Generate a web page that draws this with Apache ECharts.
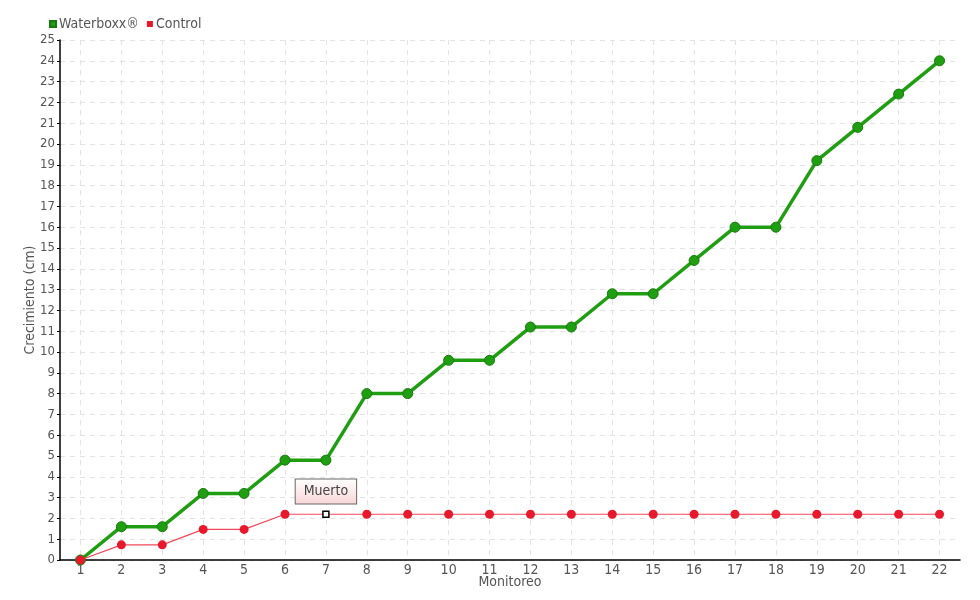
<!DOCTYPE html>
<html>
<head>
<meta charset="utf-8">
<script src="https://cdn.jsdelivr.net/npm/echarts@6/dist/echarts.min.js"></script>
<style>
  html, body { margin: 0; padding: 0; background: #fff; }
  #chart { width: 980px; height: 600px; }
</style>
</head>
<body>
<div id="chart"></div>
<script>
// monitoreos 1..22
var categories = ["1","2","3","4","5","6","7","8","9","10","11","12","13","14","15","16","17","18","19","20","21","22"];
var waterboxx = [0, 1.6, 1.6, 3.2, 3.2, 4.8, 4.8, 8, 8, 9.6, 9.6, 11.2, 11.2, 12.8, 12.8, 14.4, 16, 16, 19.2, 20.8, 22.4, 24];
var control = [0, 0.73, 0.73, 1.47, 1.47, 2.2, 2.2, 2.2, 2.2, 2.2, 2.2, 2.2, 2.2, 2.2, 2.2, 2.2, 2.2, 2.2, 2.2, 2.2, 2.2, 2.2];
var deadIndex = 6; // monitoreo 7
var deadLabel = "Muerto";

var font = "'DejaVu Sans Condensed', 'Liberation Sans Narrow', Roboto, sans-serif";
var textGrey = "#555";

var controlData = control.map(function (v, i) {
  if (i !== deadIndex) return v;
  return {
    value: v,
    symbol: "rect",
    symbolSize: 6,
    itemStyle: { color: "#fff", borderColor: "#000", borderWidth: 1.5 },
    label: {
      show: true,
      position: "top",
      distance: 7,
      formatter: deadLabel,
      fontFamily: font,
      fontSize: 14,
      color: "#444",
      padding: [5, 8, 5, 8],
      borderColor: "#666",
      borderWidth: 1,
      backgroundColor: {
        type: "linear", x: 0, y: 0, x2: 0, y2: 1,
        colorStops: [{ offset: 0, color: "#fff" }, { offset: 1, color: "#f9d6d6" }]
      }
    }
  };
});

var chart = echarts.init(document.getElementById("chart"));
var option = {
  animation: false,
  textStyle: { fontFamily: font, color: textGrey },
  legend: {
    left: 44,
    top: 12,
    itemWidth: 6,
    itemHeight: 6,
    itemGap: 8,
    icon: "rect",
    textStyle: { fontFamily: font, fontSize: 14, color: textGrey, padding: [0, 0, 0, -2] },
    data: ["Waterboxx®", "Control"]
  },
  grid: { left: 60, right: 20, top: 40, bottom: 40, outerBoundsMode: "none", containLabel: false },
  xAxis: {
    type: "category",
    data: categories,
    name: "Monitoreo",
    nameLocation: "middle",
    nameGap: 15,
    nameMoveOverlap: false,
    nameTextStyle: { fontFamily: font, fontSize: 14, color: textGrey },
    axisLine: { lineStyle: { color: "#000", width: 1.5 } },
    axisTick: { alignWithLabel: true, length: 4, lineStyle: { color: "#000" } },
    axisLabel: { fontFamily: font, fontSize: 14, color: textGrey, margin: 3 },
    splitLine: { show: true, alignWithLabel: true, lineStyle: { color: "#e3e3e3", type: [5, 5] } }
  },
  yAxis: {
    type: "value",
    min: 0,
    max: 25,
    interval: 1,
    name: "Crecimiento (cm)",
    nameLocation: "middle",
    nameGap: 23,
    nameMoveOverlap: false,
    nameTextStyle: { fontFamily: font, fontSize: 14, color: textGrey },
    axisLine: { show: true, lineStyle: { color: "#000", width: 1.5 } },
    axisTick: { show: true, length: 3, lineStyle: { color: "#000" } },
    axisLabel: { fontFamily: font, fontSize: 13, color: textGrey, margin: 5 },
    splitLine: { show: true, lineStyle: { color: "#e3e3e3", type: [5, 5] } }
  },
  series: [
    {
      name: "Waterboxx®",
      type: "line",
      data: waterboxx,
      symbol: "circle",
      symbolSize: 10,
      lineStyle: { color: "#1f9e12", width: 3.5 },
      itemStyle: { color: "#1f9e12", borderColor: "#177a0c", borderWidth: 1 },
      z: 3
    },
    {
      name: "Control",
      type: "line",
      data: controlData,
      symbol: "circle",
      symbolSize: 9,
      lineStyle: { color: "#f2485a", width: 1.2 },
      itemStyle: { color: "#e8192c" },
      z: 4
    }
  ]
};
chart.setOption(option);
</script>
</body>
</html>
